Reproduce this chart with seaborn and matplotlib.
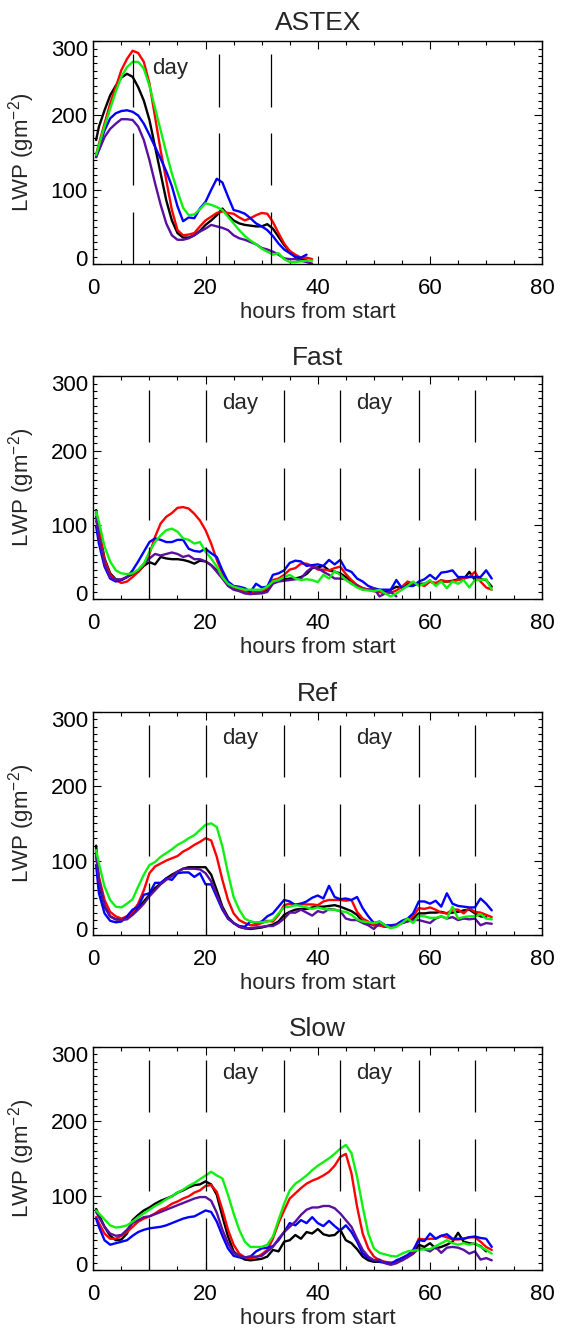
import numpy as np
import pandas as pd
import matplotlib
matplotlib.use("Agg")
import matplotlib.pyplot as plt
import seaborn as sns
from matplotlib.ticker import MultipleLocator, FixedLocator
from matplotlib.transforms import ScaledTranslation

# ---------------- data ----------------
hours = [0.5] + list(range(1, 72))

panel_titles = ["ASTEX", "Fast", "Ref", "Slow"]
series_order = ["black", "red", "blue", "purple", "green"]
series_colors = {"black": "#000000", "red": "#ff0000", "blue": "#0000ff",
                 "purple": "#5a0fa0", "green": "#10f010"}

# ASTEX
astex_black = [167, 185, 207, 227, 240, 251, 256, 252, 238, 220, 194, 158, 122, 86, 59, 42, 36, 36, 39, 45,
               53, 59, 66, 75, 66, 59, 55, 53, 52, 51, 51, 54, 48, 37, 26, 17, 10, 7, 6]
astex_red = [147, 162, 189, 216, 238, 261, 276, 287, 284, 272, 243, 198, 153, 113, 73, 46, 39, 40, 42, 51,
             59, 64, 69, 71, 69, 68, 63, 59, 62, 66, 69, 68, 57, 42, 28, 18, 13, 9, 9, 7]
astex_blue = [144, 158, 180, 196, 203, 206, 207, 205, 200, 189, 174, 158, 142, 125, 105, 78, 58, 63, 62, 75,
              84, 100, 115, 110, 91, 73, 71, 68, 62, 55, 51, 46, 38, 28, 20, 15, 10, 9, 13]
astex_purple = [144, 153, 171, 182, 189, 195, 195, 194, 185, 167, 140, 109, 80, 55, 39, 33, 33, 35, 39, 44,
                48, 53, 51, 49, 46, 39, 35, 33, 30, 27, 22, 20, 17, 13, 8, 7, 7, 5, 3, 1]
astex_green = [147, 160, 185, 209, 232, 252, 265, 272, 272, 263, 240, 210, 180, 150, 122, 98, 76, 66, 67, 74,
               82, 80, 77, 73, 64, 55, 46, 38, 32, 27, 21, 17, 13, 15, 7, 3, 3, 4, 5, 5]

# Fast
fast_black = [120, 93, 55, 35, 27, 26, 30, 34, 37, 45, 50, 47, 57, 55, 54, 54, 53, 51, 48, 52, 51, 46, 39, 30,
              21, 16, 13, 10, 8, 8, 9, 13,
              24, 26, 27, 28, 28, 30, 34, 42, 43, 45, 39, 37, 35, 30, 25, 19, 15, 13, 13, 13, 10, 13, 17, 15,
              21, 19, 21, 21, 24, 21, 24, 24, 25, 27, 27, 37, 26, 27, 26, 17]
fast_red = [105, 93, 53, 33, 26, 22, 24, 30, 37, 46, 61, 84, 102, 111, 116, 123, 124, 122, 115, 106, 93, 75,
            53, 35, 22, 17, 13, 10, 9, 10, 11, 15,
            26, 28, 33, 40, 42, 48, 48, 45, 40, 40, 39, 42, 44, 34, 26, 19, 15, 13, 11, 10, 8, 9, 12, 17,
            24, 21, 21, 18, 24, 22, 26, 24, 24, 26, 28, 30, 37, 24, 16, 13]
fast_blue = [98, 75, 44, 28, 24, 26, 30, 39, 51, 64, 77, 82, 80, 77, 77, 80, 80, 68, 65, 64, 68, 62, 57, 39,
             24, 18, 17, 15, 10, 21, 16, 17,
             33, 35, 39, 49, 52, 51, 45, 46, 47, 45, 53, 47, 53, 40, 37, 28, 24, 18, 15, 13, 13, 13, 26, 15,
             18, 18, 24, 27, 33, 27, 36, 37, 39, 30, 30, 30, 30, 30, 39, 28]
fast_purple = [111, 84, 48, 30, 26, 27, 30, 35, 39, 48, 55, 61, 59, 61, 63, 61, 57, 59, 54, 54, 51, 46, 37,
               28, 18, 13, 11, 8, 7, 8, 8, 10,
               21, 24, 25, 26, 27, 28, 37, 43, 42, 37, 33, 28, 28, 27, 21, 18, 13, 13, 15, 4, 8, 10, 4]
fast_green = [118, 104, 71, 51, 39, 35, 34, 35, 40, 48, 64, 77, 86, 93, 95, 91, 82, 80, 75, 77, 64, 55, 44,
              30, 21, 17, 15, 13, 13, 13, 13, 17,
              24, 26, 30, 33, 28, 26, 27, 26, 23, 33, 28, 38, 33, 26, 21, 16, 13, 12, 11, 13, 8, 4, 8, 13,
              18, 24, 18, 21, 26, 18, 24, 15, 24, 21, 26, 16, 26, 26, 27, 13]

# Ref
ref_black = [120, 69, 38, 25, 21, 21, 24, 28, 36, 45, 54, 63, 69, 76, 81, 85, 89, 91, 91, 91, 91, 81, 60, 38,
             24, 16, 11, 9, 8, 9, 10, 12,
             14, 18, 27, 31, 34, 35, 35, 37, 38, 38, 39, 40, 38, 35, 32, 27, 18, 16, 13, 13, 11, 11, 13, 16,
             19, 22, 29, 29, 30, 30, 31, 29, 30, 31, 33, 34, 29, 25, 24]
ref_red = [105, 78, 47, 31, 25, 22, 25, 31, 42, 60, 83, 92, 96, 100, 103, 106, 112, 116, 121, 125, 130, 127,
           105, 74, 47, 29, 20, 16, 13, 13, 16, 19,
           18, 27, 40, 42, 41, 42, 41, 41, 40, 45, 47, 47, 47, 46, 47, 31, 22, 18, 13, 13, 11, 11, 13, 16,
           19, 25, 36, 35, 37, 34, 30, 29, 34, 34, 29, 36, 31, 30, 27, 24]
ref_blue = [94, 56, 29, 19, 17, 18, 25, 34, 38, 54, 56, 70, 70, 76, 74, 83, 84, 84, 78, 83, 68, 68, 51, 34,
            22, 16, 12, 11, 18, 16, 18, 25,
            29, 38, 47, 45, 40, 42, 45, 50, 53, 49, 66, 51, 48, 49, 47, 51, 36, 25, 16, 18, 13, 13, 14, 19,
            22, 29, 45, 45, 42, 46, 38, 56, 42, 39, 38, 37, 37, 49, 42, 33]
ref_purple = [110, 74, 40, 25, 21, 20, 21, 27, 34, 42, 52, 60, 68, 74, 79, 85, 89, 89, 89, 88, 83, 72, 54,
              36, 22, 16, 11, 9, 9, 10, 11, 12,
              12, 16, 22, 30, 30, 34, 30, 26, 32, 30, 35, 34, 32, 22, 20, 20, 16, 13, 8, 16, 13, 10, 13, 16,
              18, 20, 20, 18, 16, 22, 25, 22, 24, 20, 22, 21, 22, 13, 16, 15]
ref_green = [114, 96, 65, 47, 38, 37, 42, 48, 65, 81, 94, 98, 105, 110, 115, 121, 125, 130, 134, 141, 148,
             150, 145, 119, 83, 51, 34, 22, 18, 17, 17, 18,
             20, 29, 37, 38, 40, 39, 37, 35, 37, 35, 34, 34, 32, 31, 27, 21, 18, 17, 16, 18, 13, 9, 11, 16,
             22, 16, 26, 25, 23, 23, 25, 22, 38, 22, 24, 25, 25, 28, 22, 21]

# Slow
slow_black = [82, 74, 58, 46, 40, 41, 49, 67, 74, 80, 84, 89, 93, 96, 99, 104, 107, 111, 114, 115, 119, 115,
              101, 72, 45, 25, 18, 14, 13, 14, 15, 18,
              27, 25, 38, 40, 47, 42, 51, 49, 55, 48, 46, 47, 54, 40, 36, 28, 18, 13, 11, 11, 10, 8, 11, 13,
              18, 22, 34, 31, 36, 29, 31, 34, 38, 50, 38, 36, 35, 32, 25]
slow_red = [71, 63, 49, 42, 42, 46, 51, 58, 65, 69, 72, 76, 81, 84, 89, 92, 96, 99, 104, 107, 113, 114, 105,
            81, 54, 34, 22, 17, 16, 17, 21, 27,
            42, 63, 80, 96, 103, 110, 116, 120, 123, 127, 132, 140, 152, 156, 130, 85, 49, 29, 18, 13, 11,
            10, 11, 16, 20, 25, 42, 41, 42, 42, 46, 44, 41, 41, 42, 44, 44, 38, 31, 27]
slow_blue = [69, 58, 40, 34, 36, 38, 40, 46, 51, 54, 56, 57, 58, 60, 63, 66, 69, 71, 72, 76, 80, 78, 65, 46,
             29, 19, 17, 17, 18, 25, 29, 30,
             32, 40, 51, 63, 60, 67, 63, 71, 63, 59, 66, 59, 53, 60, 51, 38, 22, 16, 13, 11, 10, 8, 13, 16,
             20, 27, 40, 39, 49, 42, 46, 48, 42, 42, 42, 44, 45, 43, 42, 31]
slow_purple = [78, 71, 58, 49, 46, 47, 54, 63, 67, 71, 72, 75, 78, 81, 84, 87, 90, 93, 96, 98, 98, 93, 77,
               54, 36, 23, 19, 17, 18, 18, 19, 25,
               31, 42, 51, 58, 65, 74, 81, 84, 84, 86, 86, 83, 76, 67, 58, 42, 27, 18, 13, 14, 9, 7, 9, 13,
               17, 22, 29, 28, 25, 31, 23, 30, 31, 30, 27, 22, 25, 14, 16, 13]
slow_green = [80, 76, 68, 60, 57, 58, 60, 65, 71, 76, 81, 86, 90, 95, 99, 104, 108, 113, 117, 122, 127, 132,
              127, 123, 101, 76, 54, 38, 31, 31, 31, 34,
              45, 67, 89, 107, 116, 121, 127, 134, 140, 145, 150, 156, 163, 168, 157, 125, 85, 49, 29, 23,
              21, 19, 18, 22, 25, 26, 27, 28, 28, 32, 36, 40, 36, 34, 36, 34, 36, 31, 27, 22]

panel_series = {
    "ASTEX": {"black": astex_black, "red": astex_red, "blue": astex_blue,
              "purple": astex_purple, "green": astex_green},
    "Fast": {"black": fast_black, "red": fast_red, "blue": fast_blue,
             "purple": fast_purple, "green": fast_green},
    "Ref": {"black": ref_black, "red": ref_red, "blue": ref_blue,
            "purple": ref_purple, "green": ref_green},
    "Slow": {"black": slow_black, "red": slow_red, "blue": slow_blue,
             "purple": slow_purple, "green": slow_green},
}

# day/night boundaries (hours) and "day" label positions
astex_bounds = [7, 22.4, 31.6]
lagr_bounds = [10, 20, 34, 44, 58, 68]
panel_bounds = {"ASTEX": astex_bounds, "Fast": lagr_bounds, "Ref": lagr_bounds, "Slow": lagr_bounds}
panel_day_x = {"ASTEX": [13.6], "Fast": [26.1, 50.1], "Ref": [26.1, 50.1], "Slow": [26.1, 50.1]}
day_label_y = 256
dash_segments = [(0, 70), (106, 176), (212, 282)]

x_ticks = [0, 20, 40, 60, 80]
y_ticks = [0, 100, 200, 300]

# ---------------- build long table ----------------
rows = []
for p in panel_titles:
    for s in series_order:
        vals = panel_series[p][s]
        for h, v in zip(hours[:len(vals)], vals):
            rows.append((p, s, h, v))
df = pd.DataFrame(rows, columns=["panel", "series", "hour", "lwp"])

# ---------------- style ----------------
sns.set_style("ticks")
plt.rcParams["font.family"] = ["Liberation Sans", "DejaVu Sans"]
plt.rcParams["mathtext.fontset"] = "custom"
plt.rcParams["mathtext.rm"] = "Liberation Sans"
plt.rcParams["mathtext.it"] = "Liberation Sans"
plt.rcParams["mathtext.default"] = "regular"

fig = plt.figure(figsize=(5.69, 13.29), dpi=100)
bottoms = [0.8011, 0.5490, 0.2965, 0.0444]
left, width, height = 0.164, 0.789, 0.168

for p, b in zip(panel_titles, bottoms):
    ax = fig.add_axes([left, b, width, height])
    sub = df[df.panel == p]
    sns.lineplot(data=sub, x="hour", y="lwp", hue="series", hue_order=series_order,
                 palette=series_colors, estimator=None, sort=False, legend=False,
                 linewidth=1.7, ax=ax)
    for xb in panel_bounds[p]:
        for lo, hi in dash_segments:
            ax.vlines(xb, lo, hi, color="black", linewidth=0.9, zorder=3)
    for xd in panel_day_x[p]:
        ax.text(xd, day_label_y, "day", ha="center", va="baseline", fontsize=16)

    ax.set_xlim(0, 80)
    ax.set_ylim(0, 300)
    ax.xaxis.set_major_locator(FixedLocator(x_ticks))
    ax.yaxis.set_major_locator(FixedLocator(y_ticks))
    ax.xaxis.set_minor_locator(MultipleLocator(5))
    ax.yaxis.set_minor_locator(MultipleLocator(10))
    ax.tick_params(which="both", direction="in", top=True, right=True,
                   width=0.8, labelsize=16, colors="black")
    ax.tick_params(which="major", length=6)
    ax.tick_params(which="minor", length=3)
    ax.tick_params(axis="x", which="major", pad=10)
    ax.tick_params(axis="y", which="major", pad=4)
    for sp in ax.spines.values():
        sp.set_linewidth(1.0)
        sp.set_color("black")
        sp.set_visible(True)

    ax.set_title(p, fontsize=19, pad=8)
    ax.set_xlabel("hours from start", fontsize=16, labelpad=2)
    ax.set_ylabel("LWP (gm$^{-2}$)", fontsize=16)
    ax.yaxis.set_label_coords(-0.125, 0.5)

    # IDL-like placement of the end labels (kept inside the axis extent)
    yt = ax.yaxis.get_major_ticks(len(y_ticks))
    yt[0].label1.set_transform(yt[0].label1.get_transform()
                               + ScaledTranslation(0, 0.06, fig.dpi_scale_trans))
    yt[-1].label1.set_transform(yt[-1].label1.get_transform()
                                + ScaledTranslation(0, -0.07, fig.dpi_scale_trans))

fig.savefig("out.png", dpi=100)
